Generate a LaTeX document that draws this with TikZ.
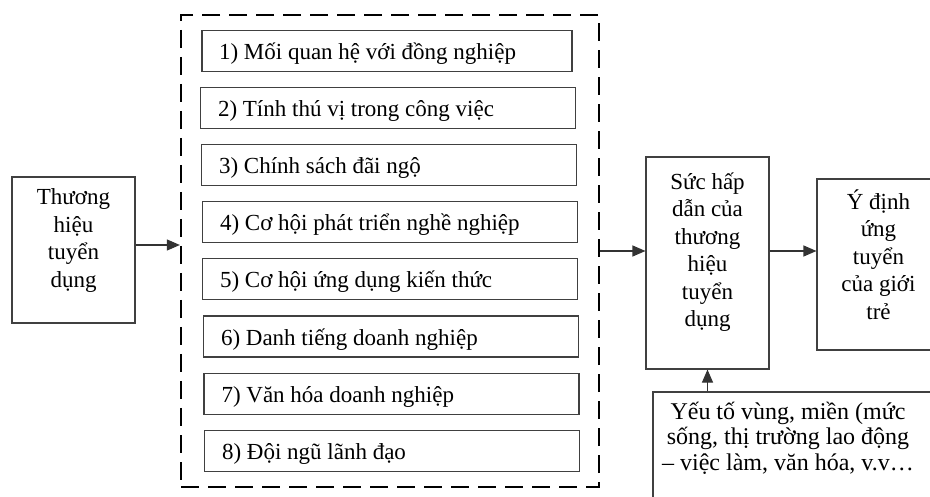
\documentclass[tikz,border=0pt]{standalone}
\usepackage{fontspec}
\setmainfont{Liberation Serif}
\usetikzlibrary{arrows.meta, positioning}

\begin{document}
\begin{tikzpicture}[
    x=1pt, y=-1pt,
    font=\fontsize{23}{27.5}\selectfont,
    node distance=15pt,
    box/.style={rectangle, draw=black!75, line width=1.1pt},
    item/.style={box, minimum width=375pt, minimum height=41pt,
                 text width=340pt, align=flush left, inner xsep=17pt,
                 text height=20pt, text depth=3pt},
    tall/.style={box, minimum width=123pt},
    txt/.style={anchor=north, align=flush center, inner sep=0pt},
    frm/.style={rectangle, draw=black, line width=2.2pt,
                dash pattern=on 18pt off 9pt},
    arr/.style={-{Triangle[length=13pt, width=11pt]}, line width=1.1pt, draw=black!80}
  ]
  \useasboundingbox (0,0) rectangle (930,497);
  \clip (0,0) rectangle (930,497);

  % Left: brand
  \node[tall, minimum height=146pt,
        label={[txt, yshift=-12pt]north:Thương\\hiệu\\tuyển\\dụng}] (brand) at (73.5,250) {};

  % Dashed group of factors
  \node[frm, minimum width=418pt, minimum height=472pt] (frame) at (390,251) {};
  \node[item, minimum width=370pt, text width=336pt] (f1) at (387,51) {1) Mối quan hệ với đồng nghiệp};
  \node[item, below=15pt of f1, xshift=1pt] (f2) {2) Tính thú vị trong công việc};
  \node[item, below=15pt of f2, xshift=1pt] (f3) {3) Chính sách đãi ngộ};
  \node[item, below=15pt of f3, xshift=1pt] (f4) {4) Cơ hội phát triển nghề nghiệp};
  \node[item, below=15pt of f4] (f5) {5) Cơ hội ứng dụng kiến thức};
  \node[item, below=15pt of f5, xshift=1pt] (f6) {6) Danh tiếng doanh nghiệp};
  \node[item, below=15pt of f6, xshift=0.5pt] (f7) {7) Văn hóa doanh nghiệp};
  \node[item, below=15pt of f7, xshift=0.5pt] (f8) {8) Đội ngũ lãnh đạo};

  % Right side
  \node[tall, minimum height=212pt,
        label={[txt, yshift=-16pt]north:Sức hấp\\dẫn của\\thương\\hiệu\\tuyển\\dụng}] (attr) at (707.5,263) {};
  \node[tall, minimum height=171pt,
        label={[txt, yshift=-11pt]north:Ý định\\ứng\\tuyển\\của giới\\trẻ}] (intent) at (878.5,264.5) {};
  \node[box, minimum width=300pt, minimum height=130pt,
        label={[txt, align=center, yshift=-10pt, xshift=-15pt, font=\fontsize{24}{25.5}\selectfont]north:Yếu tố vùng, miền (mức\\sống, thị trường lao động\\– việc làm, văn hóa, v.v…}] (region) at (803,457) {};

  % Arrows
  \coordinate (in) at ([yshift=5pt]brand.east);
  \draw[arr] (in) -- (in -| frame.west);
  \draw[arr] (frame.east) -- (frame.east -| attr.west);
  \draw[arr] (frame.east -| attr.east) -- (frame.east -| intent.west);
  \draw[arr] (region.north -| attr.south) -- (attr.south);
\end{tikzpicture}
\end{document}
